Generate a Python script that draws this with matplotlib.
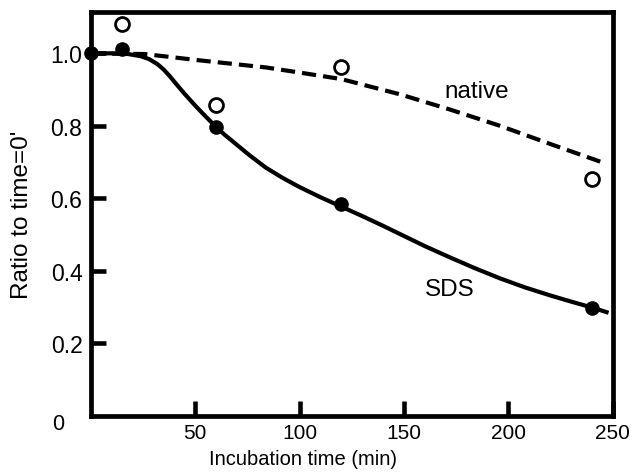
import matplotlib
matplotlib.use('Agg')
import matplotlib.pyplot as plt

plt.rcParams['font.family'] = ['Liberation Sans', 'DejaVu Sans']

# measured points
sds_t = [0, 15, 60, 120, 240]
sds_y = [1.0, 1.012, 0.797, 0.584, 0.297]
native_t = [15, 60, 120, 240]
native_y = [1.08, 0.857, 0.962, 0.653]

# fitted curves
sds_curve_t = [0, 10, 18, 24, 28, 32, 35, 38, 41, 45, 50, 55, 60, 64, 68, 72, 76, 84,
               92, 100, 110, 120, 130, 140, 150, 160, 172, 184, 196, 208, 220, 230,
               241, 248]
sds_curve_y = [1.0, 1.0, 0.998, 0.992, 0.984, 0.97, 0.955, 0.936, 0.915, 0.888, 0.856,
               0.826, 0.797, 0.776, 0.757, 0.738, 0.719, 0.684, 0.656, 0.631, 0.603,
               0.577, 0.551, 0.524, 0.496, 0.468, 0.437, 0.407, 0.379, 0.354, 0.332,
               0.315, 0.297, 0.284]
native_curve_t = [0, 26, 50, 84, 100, 120, 148, 172, 196, 220, 247]
native_curve_y = [1.0, 0.998, 0.982, 0.961, 0.947, 0.929, 0.887, 0.845, 0.80, 0.750, 0.695]

x_ticks = [50, 100, 150, 200, 250]
y_ticks = [0.2, 0.4, 0.6, 0.8, 1.0]

fig = plt.figure(figsize=(6.33, 4.77), dpi=100)
ax = fig.add_axes([0.1433, 0.1264, 0.8247, 0.8463])

ax.plot(sds_curve_t, sds_curve_y, color='black', lw=3, solid_capstyle='butt',
        solid_joinstyle='round')
ax.plot(native_curve_t, native_curve_y, color='black', lw=3, dashes=(3.4, 1.7))
ax.plot(sds_t, sds_y, 'o', color='black', ms=9.5, clip_on=False, zorder=5)
ax.plot(native_t, native_y, 'o', mfc='white', mec='black', mew=2, ms=10,
        clip_on=False, zorder=5)

ax.set_xlim(0, 250)
ax.set_ylim(0, 1.114)
ax.set_xticks(x_ticks)
ax.set_yticks(y_ticks)
ax.set_yticklabels(['%.1f' % v for v in y_ticks])
ax.tick_params(direction='in', length=11, width=3.3, pad=6)
ax.tick_params(axis='y', labelsize=16.5)
ax.tick_params(axis='x', labelsize=15, pad=5)
for s in ax.spines.values():
    s.set_linewidth(3.4)

ax.annotate('0', xy=(0, 0), xytext=(-33, -8), textcoords='offset pixels',
            ha='center', va='center', fontsize=15.5)

ax.text(185, 0.895, 'native', fontsize=17.5, ha='center', va='center')
ax.text(172, 0.35, 'SDS', fontsize=17.5, ha='center', va='center')

ax.set_xlabel('Incubation time (min)', fontsize=14.5)
ax.xaxis.set_label_coords(0.406, -0.082)
ax.set_ylabel("Ratio to time=0'", fontsize=17.5)
ax.yaxis.set_label_coords(-0.11, 0.5)

fig.savefig('out.png', dpi=100)
